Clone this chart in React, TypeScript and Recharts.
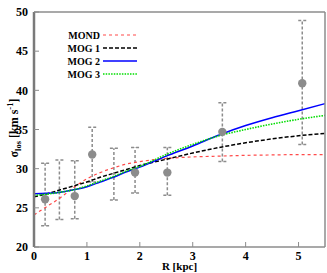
import { ComposedChart, Line, Scatter, ErrorBar, XAxis, YAxis } from "recharts";

// model curves sampled along R [kpc]
const rGrid = [0, 0.25, 0.5, 0.75, 1, 1.25, 1.5, 1.75, 2, 2.5, 3, 3.5, 4, 4.5, 5, 5.5];
const mond = [24.1, 25.2, 26.3, 27.6, 28.7, 29.5, 30.1, 30.6, 30.9, 31.3, 31.5, 31.6, 31.7, 31.75, 31.8, 31.8];
const mog1 = [26.4, 26.8, 27.3, 27.8, 28.3, 28.9, 29.4, 29.9, 30.4, 31.2, 32.0, 32.7, 33.3, 33.8, 34.2, 34.5];
const mog2 = [26.8, 26.85, 27.0, 27.3, 27.7, 28.3, 28.9, 29.6, 30.2, 31.6, 32.9, 34.3, 35.5, 36.5, 37.4, 38.3];
const mog3 = [26.6, 26.75, 27.0, 27.3, 27.8, 28.4, 29.0, 29.7, 30.3, 31.8, 33.1, 34.2, 35.0, 35.7, 36.3, 36.8];

// observed dispersion profile
const obsR = [0.21, 0.48, 0.77, 1.1, 1.51, 1.91, 2.52, 3.56, 5.07];
const obsSigma = [26.1, 27.3, 26.5, 31.8, 29.3, 29.5, 29.5, 34.7, 40.9];
const obsLow = [22.7, 23.5, 23.6, 28.3, 26.0, 26.9, 26.6, 30.9, 33.1];
const obsHigh = [30.7, 31.1, 31.0, 35.3, 32.6, 32.7, 32.7, 38.4, 48.9];
const obsMarker = [true, false, true, true, false, true, true, true, true];

const xTicks = [0, 1, 2, 3, 4, 5];
const yTicks = [20, 25, 30, 35, 40, 45, 50];

const curve = (vals: number[]) => rGrid.map((r, i) => ({ r, v: vals[i] }));
const obs = obsR.map((r, i) => ({
  r,
  v: obsSigma[i],
  e: [obsSigma[i] - obsLow[i], obsHigh[i] - obsSigma[i]],
  m: obsMarker[i],
}));
const withMarker = obs.filter((d) => d.m);
const barOnly = obs.filter((d) => !d.m);

const series = [
  { name: "MOND", vals: mond, color: "#ff4a4a", dash: "3 3", w: 1.2 },
  { name: "MOG 1", vals: mog1, color: "#000000", dash: "4 2", w: 1.5 },
  { name: "MOG 2", vals: mog2, color: "#0000ff", dash: undefined, w: 1.5 },
  { name: "MOG 3", vals: mog3, color: "#00dd00", dash: "1.5 1.2", w: 1.6 },
];

const font = "'Liberation Serif', 'Times New Roman', serif";
const frame = "#8c8c8c";
const tickStyle = { fontFamily: font, fontSize: 12, fontWeight: 700, fill: "#000" };

const YLabel = () => (
  <text
    transform="translate(18,128) rotate(-90)"
    textAnchor="middle"
    fontFamily={font}
    fontSize={12}
    fontWeight={700}
    fill="#000"
  >
    σ<tspan fontSize={8.5} dy={3}>los</tspan>
    <tspan dy={-3}> [km s</tspan>
    <tspan fontSize={8.5} dy={-5}>-1</tspan>
    <tspan dy={5}>]</tspan>
  </text>
);

const XLabel = () => (
  <text x={179.5} y={270} textAnchor="middle" fontFamily={font} fontSize={11} fontWeight={700} fill="#000">
    R [kpc]
  </text>
);

const LegendBox = () => (
  <svg width={150} height={90} style={{ position: "absolute", left: 0, top: 0 }}>
    {series.map((s, i) => {
      const y = 35 + i * 13;
      return (
        <g key={s.name}>
          <text x={100} y={y + 3.5} textAnchor="end" fontFamily={font} fontSize={10} fontWeight={700}>
            {s.name}
          </text>
          <line x1={103} x2={137} y1={y} y2={y} stroke={s.color} strokeWidth={s.w} strokeDasharray={s.dash} />
        </g>
      );
    })}
  </svg>
);

export default function App() {
  return (
    <div style={{ position: "relative", width: 327, height: 273 }}>
      <style>{"body{margin:0}"}</style>
      <ComposedChart width={327} height={273} margin={{ top: 12, right: 2, bottom: 0, left: 0 }}>
        <XAxis
          dataKey="r"
          type="number"
          domain={[0, 5.5]}
          ticks={xTicks}
          height={26}
          tickSize={-5}
          tickMargin={9}
          tick={tickStyle}
          stroke={frame}
          axisLine={{ stroke: frame, strokeWidth: 1.5 }}
          label={{ content: () => <XLabel /> }}
        />
        <XAxis
          xAxisId="top"
          orientation="top"
          type="number"
          domain={[0, 5.5]}
          ticks={xTicks.slice(1)}
          mirror
          tick={false}
          tickSize={5}
          stroke={frame}
          axisLine={{ stroke: frame, strokeWidth: 1.5 }}
        />
        <YAxis
          dataKey="v"
          type="number"
          domain={[20, 50]}
          ticks={yTicks}
          width={34}
          tickSize={-5}
          tickMargin={11}
          tick={tickStyle}
          stroke={frame}
          axisLine={{ stroke: "#7a7a7a", strokeWidth: 2.5 }}
          label={{ content: () => <YLabel /> }}
        />
        <YAxis
          yAxisId="right"
          orientation="right"
          type="number"
          domain={[20, 50]}
          ticks={yTicks.slice(1, -1)}
          mirror
          tick={false}
          tickSize={5}
          stroke={frame}
          axisLine={{ stroke: frame, strokeWidth: 1.5 }}
        />
        <Scatter data={barOnly} fill="#8c8c8c" shape={() => null} isAnimationActive={false}>
          <ErrorBar dataKey="e" direction="y" width={4} stroke="#8c8c8c" strokeWidth={1.5} strokeDasharray="3 2" />
        </Scatter>
        <Scatter
          data={withMarker}
          fill="#8c8c8c"
          shape={(p: any) => <circle cx={p.cx} cy={p.cy} r={4.2} fill="#8c8c8c" />}
          isAnimationActive={false}
        >
          <ErrorBar dataKey="e" direction="y" width={4} stroke="#8c8c8c" strokeWidth={1.5} strokeDasharray="3 2" />
        </Scatter>
        {series.map((s) => (
          <Line
            key={s.name}
            data={curve(s.vals)}
            dataKey="v"
            type="monotone"
            stroke={s.color}
            strokeWidth={s.w}
            strokeDasharray={s.dash}
            dot={false}
            activeDot={false}
            isAnimationActive={false}
          />
        ))}
      </ComposedChart>
      <LegendBox />
    </div>
  );
}
